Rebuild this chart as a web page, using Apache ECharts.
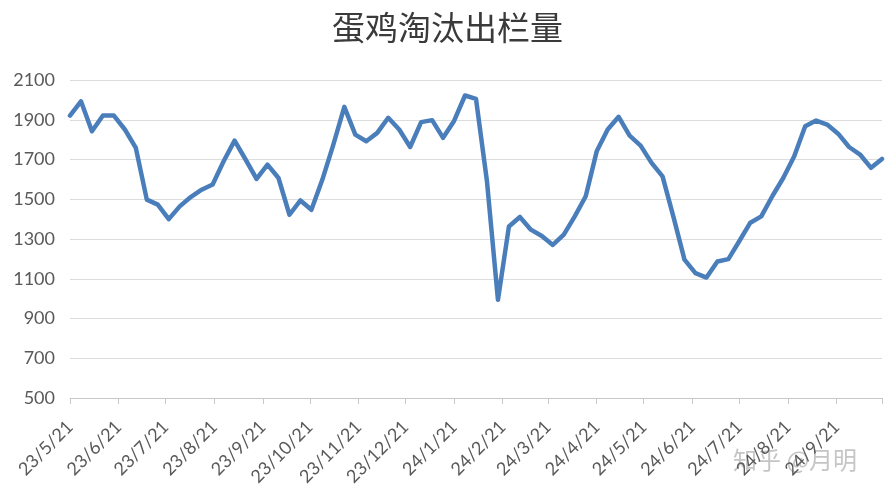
<!DOCTYPE html>
<html>
<head>
<meta charset="utf-8">
<script src="https://cdn.jsdelivr.net/npm/echarts@6/dist/echarts.min.js"></script>
<style>
html,body{margin:0;padding:0;background:#fff;}
#chart{width:895px;height:500px;}
</style>
</head>
<body>
<div id="chart"></div>
<script>
const titleText = '蛋鸡淘汰出栏量';
const dates = [
  '2023-05-21','2023-05-28','2023-06-04','2023-06-11','2023-06-18','2023-06-25',
  '2023-07-02','2023-07-09','2023-07-16','2023-07-23','2023-07-30',
  '2023-08-06','2023-08-13','2023-08-20','2023-08-27',
  '2023-09-03','2023-09-10','2023-09-17','2023-09-24',
  '2023-10-01','2023-10-08','2023-10-15','2023-10-22','2023-10-29',
  '2023-11-05','2023-11-12','2023-11-19','2023-11-26',
  '2023-12-03','2023-12-10','2023-12-17','2023-12-24','2023-12-31',
  '2024-01-07','2024-01-14','2024-01-21','2024-01-28',
  '2024-02-04','2024-02-11','2024-02-18','2024-02-25',
  '2024-03-03','2024-03-10','2024-03-17','2024-03-24','2024-03-31',
  '2024-04-07','2024-04-14','2024-04-21','2024-04-28',
  '2024-05-05','2024-05-12','2024-05-19','2024-05-26',
  '2024-06-02','2024-06-09','2024-06-16','2024-06-23','2024-06-30',
  '2024-07-07','2024-07-14','2024-07-21','2024-07-28',
  '2024-08-04','2024-08-11','2024-08-18','2024-08-25',
  '2024-09-01','2024-09-08','2024-09-15','2024-09-22','2024-09-29',
  '2024-10-06','2024-10-13','2024-10-20'
];
const values = [
  1921,1993,1842,1921,1921,1851,
  1758,1498,1473,1400,1464,
  1511,1548,1574,1691,
  1795,1700,1602,1674,
  1607,1422,1494,1447,1599,
  1775,1965,1825,1792,
  1834,1910,1851,1763,1888,
  1898,1809,1894,2022,
  2005,1590,994,1363,
  1411,1347,1315,1270,1322,
  1414,1515,1741,1851,
  1915,1820,1770,1683,
  1615,1410,1196,1128,1106,
  1187,1199,1290,1382,
  1414,1515,1607,1716,
  1867,1896,1876,1830,1763,
  1725,1658,1703
];
const tickDates = [
  '2023-05-21','2023-06-21','2023-07-21','2023-08-21','2023-09-21','2023-10-21',
  '2023-11-21','2023-12-21','2024-01-21','2024-02-21','2024-03-21','2024-04-21',
  '2024-05-21','2024-06-21','2024-07-21','2024-08-21','2024-09-21'
];
const yTicks = [500,700,900,1100,1300,1500,1700,1900,2100];

const ts = s => Date.parse(s + 'T00:00:00Z');
const seriesData = dates.map((d, i) => [ts(d), values[i]]);
const tickVals = tickDates.map(ts);
const xMin = ts(dates[0]);
const xMax = ts(dates[dates.length - 1]);

const chart = echarts.init(document.getElementById('chart'), null, {renderer: 'canvas'});
chart.setOption({
  backgroundColor: '#ffffff',
  animation: false,
  title: {
    text: titleText,
    left: 'center',
    top: 6,
    textStyle: {
      fontFamily: '"Noto Sans CJK SC", sans-serif',
      fontSize: 33,
      fontWeight: 'normal',
      color: '#3a3a3a'
    }
  },
  grid: {left: 70, right: 13, top: 80, bottom: 102},
  xAxis: {
    type: 'value',
    min: xMin,
    max: xMax,
    axisLine: {show: true, lineStyle: {color: '#c8c8c8', width: 1}},
    axisTick: {show: true, length: 6, lineStyle: {color: '#c8c8c8'}, customValues: tickVals.concat([xMax])},
    splitLine: {show: false},
    axisLabel: {
      customValues: tickVals,
      rotate: 45,
      margin: 26,
      fontSize: 18,
      color: '#595959',
      fontFamily: 'Lato, "Open Sans", sans-serif',
      formatter: function (v) {
        const d = new Date(v);
        return String(d.getUTCFullYear()).slice(2) + '/' + (d.getUTCMonth() + 1) + '/' + d.getUTCDate();
      }
    }
  },
  yAxis: {
    type: 'value',
    min: yTicks[0],
    max: yTicks[yTicks.length - 1],
    interval: 200,
    axisLine: {show: false},
    axisTick: {show: false},
    splitLine: {show: true, lineStyle: {color: '#dcdcdc', width: 1}},
    axisLabel: {
      fontSize: 18,
      margin: 15,
      color: '#595959',
      fontFamily: 'Lato, "Open Sans", sans-serif',
      formatter: function (v) { return String(v); }
    }
  },
  series: [{
    type: 'line',
    data: seriesData,
    showSymbol: false,
    smooth: false,
    lineStyle: {color: '#4a7ebb', width: 4.5, join: 'round', cap: 'round'},
    itemStyle: {color: '#4a7ebb'}
  }],
  graphic: [{
    type: 'text',
    left: 733,
    top: 448,
    silent: true,
    style: {
      text: '知乎 @月明',
      fontSize: 24,
      fontFamily: '"Noto Sans CJK SC", sans-serif',
      fill: 'rgba(150,150,150,0.55)'
    }
  }]
});
</script>
</body>
</html>
